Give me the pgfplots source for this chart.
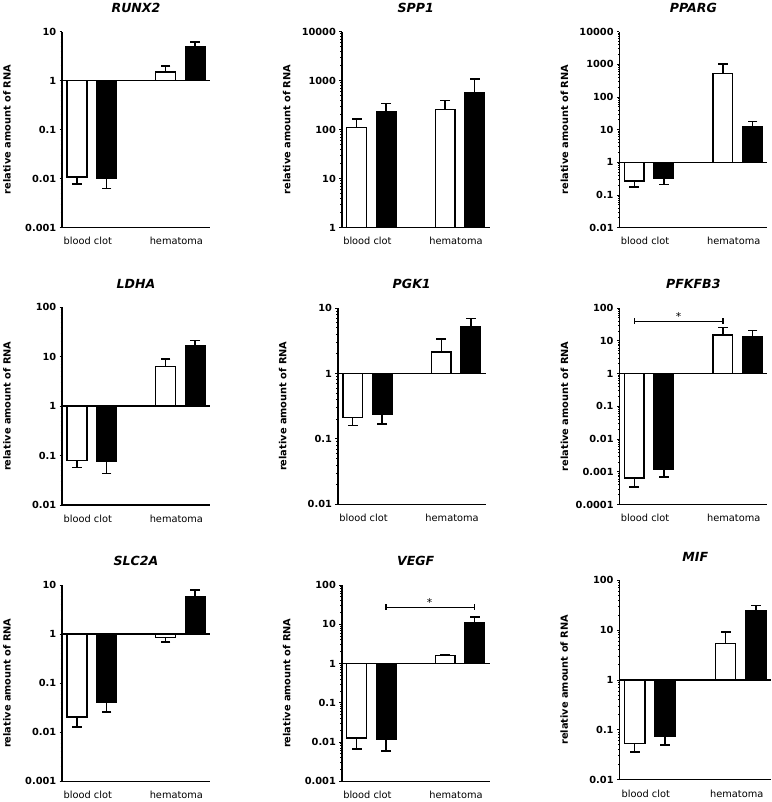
\documentclass[border=0pt]{standalone}
\usepackage{fontspec}
\setmainfont{DejaVu Sans}
\usepackage{pgfplots}
\pgfplotsset{compat=1.18}
\begin{document}
\begin{tikzpicture}

% RUNX2
\begin{axis}[scale only axis, width=150bp, height=199bp, at={(62bp,578bp)}, anchor=south west,
  ymode=log, log origin=0, ymin=0.001, ymax=10, xmin=0, xmax=150,
  axis x line*=bottom, axis y line*=left, axis line style={line width=1.5bp}, clip=false,
  tick align=outside, major tick length=2.5bp, minor tick length=1.5bp, tick style={black, line width=0.8bp},
  xtick={26,116}, xticklabels={blood clot,hematoma}, xtick style={draw=none},
  xticklabel style={font=\fontsize{10}{12}\selectfont, yshift=-4bp},
  yticklabel style={font=\fontsize{10}{12}\selectfont\bfseries},
  ylabel={relative amount of RNA}, ylabel style={font=\fontsize{10}{12}\selectfont\bfseries, at={(axis description cs:-0.373,0.5)}, anchor=center},
  title={RUNX2}, title style={font=\fontsize{12.8}{14}\selectfont\bfseries\itshape, at={(axis description cs:0.5,1)}, anchor=center, yshift=18bp},
  ytick={0.001,0.01,0.1,1,10}, yticklabels={0.001,0.01,0.1,1,10}]
\addplot[ybar, bar shift=0pt, bar width=20, fill=white, draw=black, line width=1.5bp] coordinates {(15,0.0108) (105,1.49)};
\addplot[ybar, bar shift=0pt, bar width=20, fill=black, draw=black, line width=1.5bp] coordinates {(45,0.0103) (135,4.86)};
\addplot[black, line width=1.5bp, mark=-, mark size=5bp, unbounded coords=jump] coordinates {(15,0.0108) (15,0.0078) (15,nan) (105,1.49) (105,1.97) (105,nan)
  (45,0.0103) (45,0.0062) (45,nan) (135,4.86) (135,6.2)};
\addplot[black, line width=1.5bp, mark=none] coordinates {(0,1) (150,1)};
\end{axis}

% SPP1
\begin{axis}[scale only axis, width=150bp, height=199bp, at={(346bp,578bp)}, anchor=south west,
  ymode=log, log origin=0, ymin=1, ymax=10000, xmin=0, xmax=150,
  axis x line*=bottom, axis y line*=left, axis line style={line width=1.5bp}, clip=false,
  tick align=outside, major tick length=2.5bp, minor tick length=1.5bp, tick style={black, line width=0.8bp},
  xtick={26,116}, xticklabels={blood clot,hematoma}, xtick style={draw=none},
  xticklabel style={font=\fontsize{10}{12}\selectfont, yshift=-4bp},
  yticklabel style={font=\fontsize{10}{12}\selectfont\bfseries},
  ylabel={relative amount of RNA}, ylabel style={font=\fontsize{10}{12}\selectfont\bfseries, at={(axis description cs:-0.373,0.5)}, anchor=center},
  title={SPP1}, title style={font=\fontsize{12.8}{14}\selectfont\bfseries\itshape, at={(axis description cs:0.5,1)}, anchor=center, yshift=18bp},
  ytick={1,10,100,1000,10000}, yticklabels={1,10,100,1000,10000}]
\addplot[ybar, bar shift=0pt, bar width=20, fill=white, draw=black, line width=1.5bp] coordinates {(15,110) (105,260)};
\addplot[ybar, bar shift=0pt, bar width=20, fill=black, draw=black, line width=1.5bp] coordinates {(45,233) (135,553)};
\addplot[black, line width=1.5bp, mark=-, mark size=5bp, unbounded coords=jump] coordinates {(15,110) (15,164) (15,nan) (105,260) (105,394) (105,nan)
  (45,233) (45,338) (45,nan) (135,553) (135,1088)};
\end{axis}

% PPARG
\begin{axis}[scale only axis, width=150bp, height=199bp, at={(628bp,578bp)}, anchor=south west,
  ymode=log, log origin=0, ymin=0.01, ymax=10000, xmin=0, xmax=150,
  axis x line*=bottom, axis y line*=left, axis line style={line width=1.5bp}, clip=false,
  tick align=outside, major tick length=2.5bp, minor tick length=1.5bp, tick style={black, line width=0.8bp},
  xtick={26,116}, xticklabels={blood clot,hematoma}, xtick style={draw=none},
  xticklabel style={font=\fontsize{10}{12}\selectfont, yshift=-4bp},
  yticklabel style={font=\fontsize{10}{12}\selectfont\bfseries},
  ylabel={relative amount of RNA}, ylabel style={font=\fontsize{10}{12}\selectfont\bfseries, at={(axis description cs:-0.373,0.5)}, anchor=center},
  title={PPARG}, title style={font=\fontsize{12.8}{14}\selectfont\bfseries\itshape, at={(axis description cs:0.5,1)}, anchor=center, yshift=18bp},
  ytick={0.01,0.1,1,10,100,1000,10000}, yticklabels={0.01,0.1,1,10,100,1000,10000}]
\addplot[ybar, bar shift=0pt, bar width=20, fill=white, draw=black, line width=1.5bp] coordinates {(15,0.267) (105,529)};
\addplot[ybar, bar shift=0pt, bar width=20, fill=black, draw=black, line width=1.5bp] coordinates {(45,0.33) (135,11.9)};
\addplot[black, line width=1.5bp, mark=-, mark size=5bp, unbounded coords=jump] coordinates {(15,0.267) (15,0.176) (15,nan) (105,529) (105,1012) (105,nan)
  (45,0.33) (45,0.207) (45,nan) (135,11.9) (135,18.0)};
\addplot[black, line width=1.5bp, mark=none] coordinates {(0,1) (150,1)};
\end{axis}

% LDHA
\begin{axis}[scale only axis, width=150bp, height=200.7bp, at={(62bp,296.3bp)}, anchor=south west,
  ymode=log, log origin=0, ymin=0.01, ymax=100, xmin=0, xmax=150,
  axis x line*=bottom, axis y line*=left, axis line style={line width=1.5bp}, clip=false,
  tick align=outside, major tick length=2.5bp, minor tick length=1.5bp, tick style={black, line width=0.8bp},
  xtick={26,116}, xticklabels={blood clot,hematoma}, xtick style={draw=none},
  xticklabel style={font=\fontsize{10}{12}\selectfont, yshift=-4bp},
  yticklabel style={font=\fontsize{10}{12}\selectfont\bfseries},
  ylabel={relative amount of RNA}, ylabel style={font=\fontsize{10}{12}\selectfont\bfseries, at={(axis description cs:-0.373,0.5)}, anchor=center},
  title={LDHA}, title style={font=\fontsize{12.8}{14}\selectfont\bfseries\itshape, at={(axis description cs:0.5,1)}, anchor=center, yshift=18bp},
  ytick={0.01,0.1,1,10,100}, yticklabels={0.01,0.1,1,10,100}]
\addplot[ybar, bar shift=0pt, bar width=20, fill=white, draw=black, line width=1.5bp] coordinates {(15,0.0789) (105,6.37)};
\addplot[ybar, bar shift=0pt, bar width=20, fill=black, draw=black, line width=1.5bp] coordinates {(45,0.0753) (135,16.4)};
\addplot[black, line width=1.5bp, mark=-, mark size=5bp, unbounded coords=jump] coordinates {(15,0.0789) (15,0.0572) (15,nan) (105,6.37) (105,9.06) (105,nan)
  (45,0.0753) (45,0.0434) (45,nan) (135,16.4) (135,21.3)};
\addplot[black, line width=1.5bp, mark=none] coordinates {(0,1) (150,1)};
\end{axis}

% PGK1
\begin{axis}[scale only axis, width=150bp, height=199.3bp, at={(342bp,297bp)}, anchor=south west,
  ymode=log, log origin=0, ymin=0.01, ymax=10, xmin=0, xmax=150,
  axis x line*=bottom, axis y line*=left, axis line style={line width=1.5bp}, clip=false,
  tick align=outside, major tick length=2.5bp, minor tick length=1.5bp, tick style={black, line width=0.8bp},
  xtick={26,116}, xticklabels={blood clot,hematoma}, xtick style={draw=none},
  xticklabel style={font=\fontsize{10}{12}\selectfont, yshift=-4bp},
  yticklabel style={font=\fontsize{10}{12}\selectfont\bfseries},
  ylabel={relative amount of RNA}, ylabel style={font=\fontsize{10}{12}\selectfont\bfseries, at={(axis description cs:-0.373,0.5)}, anchor=center},
  title={PGK1}, title style={font=\fontsize{12.8}{14}\selectfont\bfseries\itshape, at={(axis description cs:0.5,1)}, anchor=center, yshift=18bp},
  ytick={0.01,0.1,1,10}, yticklabels={0.01,0.1,1,10}]
\addplot[ybar, bar shift=0pt, bar width=20, fill=white, draw=black, line width=1.5bp] coordinates {(15,0.214) (105,2.14)};
\addplot[ybar, bar shift=0pt, bar width=20, fill=black, draw=black, line width=1.5bp] coordinates {(45,0.234) (135,5.25)};
\addplot[black, line width=1.5bp, mark=-, mark size=5bp, unbounded coords=jump] coordinates {(15,0.214) (15,0.160) (15,nan) (105,2.14) (105,3.35) (105,nan)
  (45,0.234) (45,0.170) (45,nan) (135,5.25) (135,6.92)};
\addplot[black, line width=1.5bp, mark=none] coordinates {(0,1) (150,1)};
\end{axis}

% PFKFB3
\begin{axis}[scale only axis, width=150bp, height=199.6bp, at={(628bp,296.7bp)}, anchor=south west,
  ymode=log, log origin=0, ymin=0.0001, ymax=100, xmin=0, xmax=150,
  axis x line*=bottom, axis y line*=left, axis line style={line width=1.5bp}, clip=false,
  tick align=outside, major tick length=2.5bp, minor tick length=1.5bp, tick style={black, line width=0.8bp},
  xtick={26,116}, xticklabels={blood clot,hematoma}, xtick style={draw=none},
  xticklabel style={font=\fontsize{10}{12}\selectfont, yshift=-4bp},
  yticklabel style={font=\fontsize{10}{12}\selectfont\bfseries},
  ylabel={relative amount of RNA}, ylabel style={font=\fontsize{10}{12}\selectfont\bfseries, at={(axis description cs:-0.373,0.5)}, anchor=center},
  title={PFKFB3}, title style={font=\fontsize{12.8}{14}\selectfont\bfseries\itshape, at={(axis description cs:0.5,1)}, anchor=center, yshift=18bp},
  ytick={0.0001,0.001,0.01,0.1,1,10,100}, yticklabels={0.0001,0.001,0.01,0.1,1,10,100}]
\addplot[ybar, bar shift=0pt, bar width=20, fill=white, draw=black, line width=1.5bp] coordinates {(15,0.000651) (105,14.9)};
\addplot[ybar, bar shift=0pt, bar width=20, fill=black, draw=black, line width=1.5bp] coordinates {(45,0.00119) (135,13.6)};
\addplot[black, line width=1.5bp, mark=-, mark size=5bp, unbounded coords=jump] coordinates {(15,0.000651) (15,0.000349) (15,nan) (105,14.9) (105,25.9) (105,nan)
  (45,0.00119) (45,0.000698) (45,nan) (135,13.6) (135,20.5)};
\addplot[black, line width=1.5bp, mark=none] coordinates {(0,1) (150,1)};
\addplot[black, line width=1.5bp, mark=|, mark size=3bp] coordinates {(15,39.2) (105,39.2)};
\node[font=\fontsize{11}{12}\selectfont, anchor=south, inner sep=1bp] at (axis cs:60,39.2) {*};
\end{axis}

% SLC2A
\begin{axis}[scale only axis, width=150bp, height=199.3bp, at={(62bp,15.7bp)}, anchor=south west,
  ymode=log, log origin=0, ymin=0.001, ymax=10, xmin=0, xmax=150,
  axis x line*=bottom, axis y line*=left, axis line style={line width=1.5bp}, clip=false,
  tick align=outside, major tick length=2.5bp, minor tick length=1.5bp, tick style={black, line width=0.8bp},
  xtick={26,116}, xticklabels={blood clot,hematoma}, xtick style={draw=none},
  xticklabel style={font=\fontsize{10}{12}\selectfont, yshift=-4bp},
  yticklabel style={font=\fontsize{10}{12}\selectfont\bfseries},
  ylabel={relative amount of RNA}, ylabel style={font=\fontsize{10}{12}\selectfont\bfseries, at={(axis description cs:-0.373,0.5)}, anchor=center},
  title={SLC2A}, title style={font=\fontsize{12.8}{14}\selectfont\bfseries\itshape, at={(axis description cs:0.5,1)}, anchor=center, yshift=18bp},
  ytick={0.001,0.01,0.1,1,10}, yticklabels={0.001,0.01,0.1,1,10}]
\addplot[ybar, bar shift=0pt, bar width=20, fill=white, draw=black, line width=1.5bp] coordinates {(15,0.0203) (105,0.844)};
\addplot[ybar, bar shift=0pt, bar width=20, fill=black, draw=black, line width=1.5bp] coordinates {(45,0.040) (135,5.70)};
\addplot[black, line width=1.5bp, mark=-, mark size=5bp, unbounded coords=jump] coordinates {(15,0.0203) (15,0.0128) (15,nan) (105,0.844) (105,0.69) (105,nan)
  (45,0.040) (45,0.026) (45,nan) (135,5.70) (135,8.0)};
\addplot[black, line width=1.5bp, mark=none] coordinates {(0,1) (150,1)};
\end{axis}

% VEGF
\begin{axis}[scale only axis, width=150bp, height=199.3bp, at={(346bp,15.7bp)}, anchor=south west,
  ymode=log, log origin=0, ymin=0.001, ymax=100, xmin=0, xmax=150,
  axis x line*=bottom, axis y line*=left, axis line style={line width=1.5bp}, clip=false,
  tick align=outside, major tick length=2.5bp, minor tick length=1.5bp, tick style={black, line width=0.8bp},
  xtick={26,116}, xticklabels={blood clot,hematoma}, xtick style={draw=none},
  xticklabel style={font=\fontsize{10}{12}\selectfont, yshift=-4bp},
  yticklabel style={font=\fontsize{10}{12}\selectfont\bfseries},
  ylabel={relative amount of RNA}, ylabel style={font=\fontsize{10}{12}\selectfont\bfseries, at={(axis description cs:-0.373,0.5)}, anchor=center},
  title={VEGF}, title style={font=\fontsize{12.8}{14}\selectfont\bfseries\itshape, at={(axis description cs:0.5,1)}, anchor=center, yshift=18bp},
  ytick={0.001,0.01,0.1,1,10,100}, yticklabels={0.001,0.01,0.1,1,10,100}]
\addplot[ybar, bar shift=0pt, bar width=20, fill=white, draw=black, line width=1.5bp] coordinates {(15,0.01265) (105,1.62)};
\addplot[ybar, bar shift=0pt, bar width=20, fill=black, draw=black, line width=1.5bp] coordinates {(45,0.0117) (135,11.1)};
\addplot[black, line width=1.5bp, mark=-, mark size=5bp, unbounded coords=jump] coordinates {(15,0.01265) (15,0.0067) (15,nan) (105,1.62) (105,1.68) (105,nan)
  (45,0.0117) (45,0.00586) (45,nan) (135,11.1) (135,15.4)};
\addplot[black, line width=1.5bp, mark=none] coordinates {(0,1) (150,1)};
\addplot[black, line width=1.5bp, mark=|, mark size=3bp] coordinates {(45,26.9) (135,26.9)};
\node[font=\fontsize{11}{12}\selectfont, anchor=south, inner sep=1bp] at (axis cs:89,26.9) {*};
\end{axis}

% MIF
\begin{axis}[scale only axis, width=154bp, height=202.7bp, at={(628bp,17.3bp)}, anchor=south west,
  ymode=log, log origin=0, ymin=0.01, ymax=100, xmin=0, xmax=150,
  axis x line*=bottom, axis y line*=left, axis line style={line width=1.5bp}, clip=false,
  tick align=outside, major tick length=2.5bp, minor tick length=1.5bp, tick style={black, line width=0.8bp},
  xtick={26,116}, xticklabels={blood clot,hematoma}, xtick style={draw=none},
  xticklabel style={font=\fontsize{10}{12}\selectfont, yshift=-4bp},
  yticklabel style={font=\fontsize{10}{12}\selectfont\bfseries},
  ylabel={relative amount of RNA}, ylabel style={font=\fontsize{10}{12}\selectfont\bfseries, at={(axis description cs:-0.364,0.5)}, anchor=center},
  title={MIF}, title style={font=\fontsize{12.8}{14}\selectfont\bfseries\itshape, at={(axis description cs:0.5,1)}, anchor=center, yshift=18bp},
  ytick={0.01,0.1,1,10,100}, yticklabels={0.01,0.1,1,10,100}]
\addplot[ybar, bar shift=0pt, bar width=20, fill=white, draw=black, line width=1.5bp] coordinates {(15,0.0537) (105,5.37)};
\addplot[ybar, bar shift=0pt, bar width=20, fill=black, draw=black, line width=1.5bp] coordinates {(45,0.075) (135,24.0)};
\addplot[black, line width=1.5bp, mark=-, mark size=5bp, unbounded coords=jump] coordinates {(15,0.0537) (15,0.0363) (15,nan) (105,5.37) (105,9.12) (105,nan)
  (45,0.075) (45,0.0498) (45,nan) (135,24.0) (135,31.0)};
\addplot[black, line width=1.5bp, mark=none] coordinates {(0,1) (150,1)};
\end{axis}
\end{tikzpicture}
\end{document}
